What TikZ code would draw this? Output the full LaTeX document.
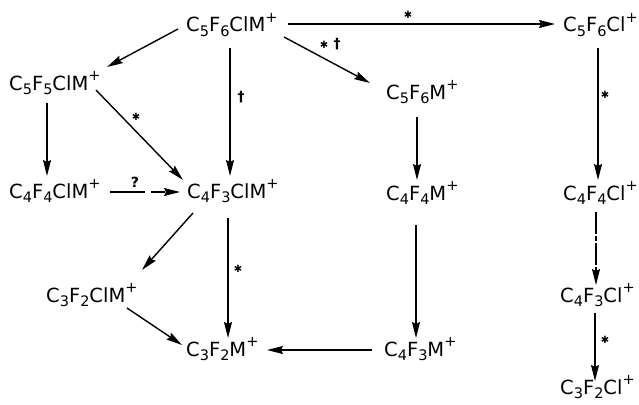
\documentclass[tikz,border=0pt]{standalone}
\usepackage{fontspec}
\setmainfont{DejaVu Sans}
\usetikzlibrary{arrows.meta,calc}
\newcommand{\chemsize}{\fontsize{19.5}{19.5}\selectfont}
\newcommand{\lo}[1]{\raisebox{-0.22em}{\fontsize{14.5}{14.5}\selectfont #1}}
\newcommand{\hi}[1]{\raisebox{0.5em}{\fontsize{14.5}{14.5}\selectfont #1}}
\begin{document}
\begin{tikzpicture}[x=1pt,y=-1pt,
  chem/.style={font=\chemsize, inner sep=0pt, anchor=base west},
  arr/.style={-{Stealth[length=16pt,width=8pt,inset=2pt]}, line width=1.4pt},
  lbl/.style={font=\fontsize{14}{14}\selectfont\bfseries, inner sep=0pt},
  star/.style={font=\fontsize{10}{10}\selectfont, inner sep=0pt}]
\useasboundingbox (0,0) rectangle (639,404);
\fill[white] (0,0) rectangle (639,404);
% species
\node[chem] (n1)  at (186,32)  {C\lo{5}F\lo{6}ClM\hi{+}};
\node[chem] (n2)  at (563,32)  {C\lo{5}F\lo{6}Cl\hi{+}};
\node[chem] (n3)  at (9,90)    {C\lo{5}F\lo{5}ClM\hi{+}};
\node[chem] (n4)  at (386,99)  {C\lo{5}F\lo{6}M\hi{+}};
\node[chem] (n5)  at (9,198)   {C\lo{4}F\lo{4}ClM\hi{+}};
\node[chem] (n6)  at (187,198) {C\lo{4}F\lo{3}ClM\hi{+}};
\node[chem] (n7)  at (386,200) {C\lo{4}F\lo{4}M\hi{+}};
\node[chem] (n8)  at (563,200) {C\lo{4}F\lo{4}Cl\hi{+}};
\node[chem] (n9)  at (46,302)  {C\lo{3}F\lo{2}ClM\hi{+}};
\node[chem] (n10) at (560,302) {C\lo{4}F\lo{3}Cl\hi{+}};
\node[chem] (n11) at (186,356) {C\lo{3}F\lo{2}M\hi{+}};
\node[chem] (n12) at (384,356) {C\lo{4}F\lo{3}M\hi{+}};
\node[chem] (n13) at (560,394) {C\lo{3}F\lo{2}Cl\hi{+}};
% connectors
\draw[arr] ($(n1.base west)+(102,-8)$) -- ($(n2.base west)+(-8,-8)$);
\draw[arr] ($(n1.base west)+(-8,-3)$) -- ($(n3.base west)+(98,-23)$);
\draw[arr] ($(n1.base west)+(44,16)$) -- ($(n6.base west)+(43,-22)$);
\draw[arr] ($(n1.base west)+(98,5)$) -- ($(n4.base west)+(-16,-16)$);
\draw[arr] ($(n3.base west)+(38,13)$) -- ($(n5.base west)+(38,-22)$);
\draw[arr] ($(n3.base west)+(87,0)$) -- ($(n6.base west)+(-4,-18)$);
\draw[arr,dash pattern=on 35pt off 6pt on 14pt off 4pt] ($(n5.base west)+(101,-6)$) -- ($(n6.base west)+(-7,-6)$);
\draw[arr] ($(n6.base west)+(6,15)$) -- ($(n9.base west)+(96,-32)$);
\draw[arr] ($(n6.base west)+(41,20)$) -- ($(n11.base west)+(42,-18)$);
\draw[arr] ($(n9.base west)+(81,6)$) -- ($(n11.base west)+(-4,-11)$);
\draw[arr] ($(n12.base west)+(-12,-6)$) -- ($(n11.base west)+(81,-6)$);
\draw[arr] ($(n4.base west)+(31,18)$) -- ($(n7.base west)+(31,-20)$);
\draw[arr] ($(n7.base west)+(30,25)$) -- ($(n12.base west)+(32,-18)$);
\draw[arr] ($(n2.base west)+(35,16)$) -- ($(n8.base west)+(35,-20)$);
\draw[arr,dash pattern=on 22pt off 2pt on 5pt off 2pt] ($(n8.base west)+(33,12)$) -- ($(n10.base west)+(36,-17)$);
\draw[arr] ($(n10.base west)+(35,11)$) -- ($(n13.base west)+(35,-13)$);
% labels
\node[star] (l1) at (408,15) {✱};
\node[lbl]  (l2) at (241,97) {†};
\node[star] (l3a) at (324,45) {✱};
\node[lbl]  (l3b) at (337,44) {†};
\node[star] (l4) at (136,117) {✱};
\node[lbl]  (l5) at (135,182) {?};
\node[star] (l6) at (238,269) {✱};
\node[star] (l7) at (605,95) {✱};
\node[star] (l8) at (605,340) {✱};
\end{tikzpicture}
\end{document}
